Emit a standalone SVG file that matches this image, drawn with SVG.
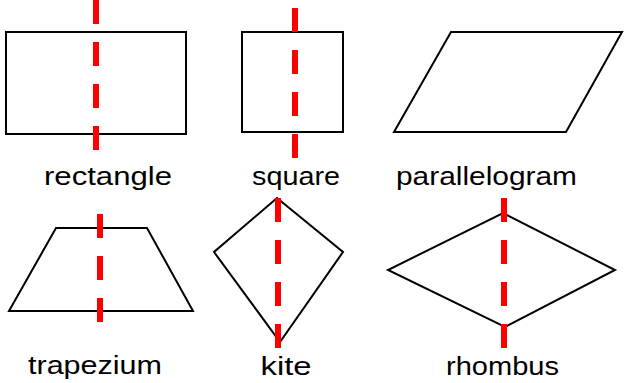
<svg xmlns="http://www.w3.org/2000/svg" width="624" height="383" viewBox="0 0 624 383">
<style>
.shape{fill:#fff;stroke:#000;stroke-width:2;stroke-linejoin:miter}
.axis{stroke:#ff0000;stroke-width:6;stroke-dasharray:24 18;fill:none}
.label{font-family:"Liberation Sans",Arial,sans-serif;font-size:26px;fill:#000;text-anchor:middle}
</style>
<rect width="624" height="383" fill="#fff"/>
<g id="rectangle">
<rect class="shape" x="6" y="32" width="180" height="102"/>
<text class="label" x="108" y="185" textLength="128" lengthAdjust="spacingAndGlyphs">rectangle</text>
</g>
<g id="square">
<rect class="shape" x="242" y="32" width="101" height="100"/>
<text class="label" x="296" y="185" textLength="88" lengthAdjust="spacingAndGlyphs">square</text>
</g>
<g id="parallelogram">
<polygon class="shape" points="451,32 622,32 566,132 394,132"/>
<text class="label" x="486.5" y="185" textLength="181" lengthAdjust="spacingAndGlyphs">parallelogram</text>
</g>
<g id="trapezium">
<polygon class="shape" points="56,228 147,228 193,311 9,311"/>
<text class="label" x="95" y="374" textLength="134" lengthAdjust="spacingAndGlyphs">trapezium</text>
</g>
<g id="kite">
<polygon class="shape" points="277,198 343,252 280,342 214,252"/>
<text class="label" x="286" y="375" textLength="51" lengthAdjust="spacingAndGlyphs">kite</text>
</g>
<g id="rhombus">
<polygon class="shape" points="503,213 615,270 505,327 388,270"/>
<text class="label" x="502.5" y="375" textLength="113" lengthAdjust="spacingAndGlyphs">rhombus</text>
</g>
<g id="connectors">
<line class="axis" x1="96" y1="0" x2="96" y2="150"/>
<line class="axis" x1="295" y1="8" x2="295" y2="158"/>
<line class="axis" x1="100" y1="214" x2="100" y2="322"/>
<line class="axis" x1="278" y1="198" x2="278" y2="348"/>
<line class="axis" x1="504" y1="198" x2="504" y2="348"/>
</g>
</svg>
